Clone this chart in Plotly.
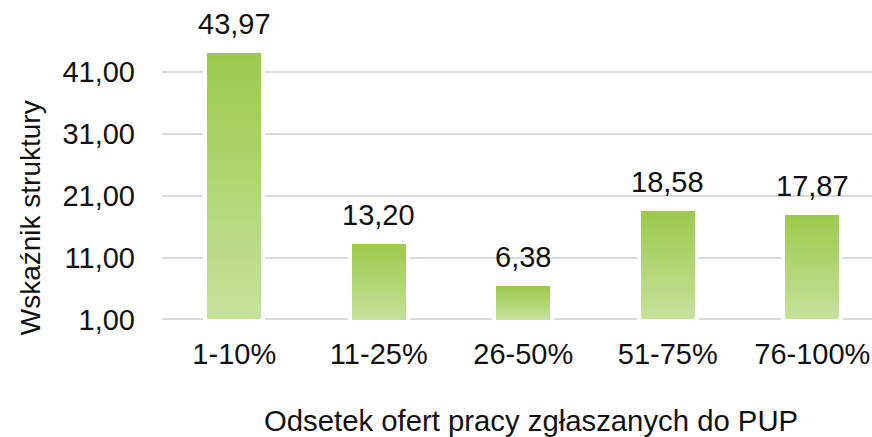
import plotly.graph_objects as go

categories = ["1-10%", "11-25%", "26-50%", "51-75%", "76-100%"]
values = [43.97, 13.20, 6.38, 18.58, 17.87]
y_ticks = [1, 11, 21, 31, 41]
x_title = "Odsetek ofert pracy zgłaszanych do PUP"
y_title = "Wskaźnik struktury"

BASE = 1
N_SEG = 40
TOP_RGB = (156, 201, 76)
BOT_RGB = (198, 226, 156)
FONT = "Liberation Sans, Arial, sans-serif"
TXT = "#111111"

fig = go.Figure()

# white halo behind each bar (Excel white border)
fig.add_trace(go.Bar(
    x=categories, y=[v - BASE + 0.6 for v in values], base=[BASE - 0.3] * len(values),
    width=0.43, marker=dict(color="white", line=dict(width=0)),
    hoverinfo="skip", showlegend=False))

# gradient bars built from stacked slices
for k in range(N_SEG):
    t = (k + 0.5) / N_SEG  # 0 bottom -> 1 top
    r = round(BOT_RGB[0] + (TOP_RGB[0] - BOT_RGB[0]) * t)
    g = round(BOT_RGB[1] + (TOP_RGB[1] - BOT_RGB[1]) * t)
    b = round(BOT_RGB[2] + (TOP_RGB[2] - BOT_RGB[2]) * t)
    fig.add_trace(go.Bar(
        x=categories,
        y=[(v - BASE) / N_SEG * (1.02 if k < N_SEG - 1 else 1.0) for v in values],
        base=[BASE + (v - BASE) * k / N_SEG for v in values],
        width=0.374,
        marker=dict(color=f"rgb({r},{g},{b})", line=dict(width=0)),
        hoverinfo="skip", showlegend=False))

for c, v in zip(categories, values):
    fig.add_annotation(x=c, y=v, text=f"{v:.2f}".replace(".", ","),
                       showarrow=False, yanchor="bottom", yshift=11,
                       font=dict(size=29, color=TXT, family=FONT))

# axis titles
fig.add_annotation(xref="paper", yref="paper", x=0.52, y=-0.327,
                   text=x_title, showarrow=False, xanchor="center", yanchor="middle",
                   font=dict(size=29.3, color=TXT, family=FONT))
fig.add_annotation(xref="paper", yref="paper", x=-0.186, y=0.34,
                   text=y_title, showarrow=False, textangle=-90,
                   xanchor="center", yanchor="middle",
                   font=dict(size=28, color=TXT, family=FONT))

fig.update_layout(
    width=872, height=437,
    margin=dict(l=162, r=0, t=16, b=116),
    plot_bgcolor="white", paper_bgcolor="white",
    barmode="overlay", bargap=0,
    separators=", ",
    font=dict(family=FONT, size=29, color=TXT),
    showlegend=False,
    xaxis=dict(
        range=[-0.5, 4.413], showgrid=False, showline=False, zeroline=False,
        ticks="", ticklabelstandoff=13, automargin=False,
        tickfont=dict(size=29, color=TXT),
    ),
    yaxis=dict(
        range=[0.75, 50], tickvals=y_ticks, tickformat=".2f",
        showgrid=True, gridcolor="#D9D9D9", gridwidth=1.5,
        showline=False, zeroline=False, ticks="", ticklabelstandoff=26,
        automargin=False,
        tickfont=dict(size=29, color=TXT),
    ),
)

fig.write_html(
    "out.html",
    config={"displayModeBar": False},
    post_script="document.body.style.margin='0';document.body.style.overflow='hidden';",
)
